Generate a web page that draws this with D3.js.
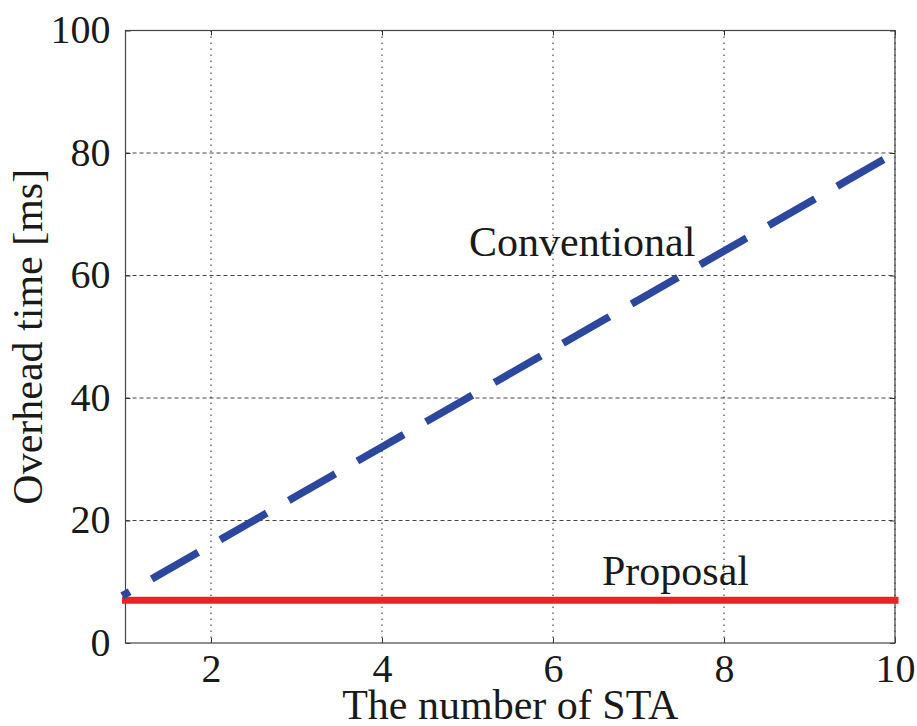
<!DOCTYPE html>
<html>
<head>
<meta charset="utf-8">
<script src="https://cdn.jsdelivr.net/npm/d3@7"></script>
<style>
  html, body { margin: 0; padding: 0; background: #fff; }
  svg { display: block; }
  text { font-family: "Liberation Serif", "Times New Roman", serif; fill: #1a1a1a; }
</style>
</head>
<body>
<svg id="chart" width="917" height="726"></svg>
<script>
// Number of stations on the x axis
const nSTA = [1, 2, 3, 4, 5, 6, 7, 8, 9, 10];
// Overhead time [ms] for each scheme
const conventional = [8, 16, 24, 32, 40, 48, 56, 64, 72, 80];
const proposal = [7, 7, 7, 7, 7, 7, 7, 7, 7, 7];
// Axis ticks
const xTicks = [2, 4, 6, 8, 10];
const yTicks = [0, 20, 40, 60, 80, 100];

const svg = d3.select("#chart");
const plotL = 125.5, plotR = 895, plotT = 30.5, plotB = 643;

const x = d3.scaleLinear().domain([1, 10]).range([plotL, plotR]);
const y = d3.scaleLinear().domain([0, 100]).range([plotB, plotT]);

// Grid lines
const grid = svg.append("g");
grid.selectAll("line.h").data(yTicks.slice(1)).join("line")
  .attr("class", "h")
  .attr("x1", plotL).attr("x2", plotR)
  .attr("y1", d => y(d)).attr("y2", d => y(d))
  .attr("stroke", "#444").attr("stroke-width", 1)
  .attr("stroke-dasharray", "4 3");
grid.selectAll("line.v").data(xTicks).join("line")
  .attr("class", "v")
  .attr("x1", d => x(d)).attr("x2", d => x(d))
  .attr("y1", plotT).attr("y2", plotB)
  .attr("stroke", "#222").attr("stroke-width", 1)
  .attr("stroke-dasharray", "1.5 4.5");

// Axes with inward ticks on all four sides
const axisStyle = g => {
  g.select(".domain").remove();
  g.selectAll(".tick line").attr("stroke", "#333").attr("stroke-width", 1);
  g.selectAll(".tick text").attr("font-size", 40)
    .style("font-family", "'Liberation Serif', 'Times New Roman', serif").attr("fill", "#1a1a1a");
};
svg.append("g").attr("transform", `translate(0,${plotB})`)
  .call(d3.axisBottom(x).tickValues(xTicks).tickFormat(d3.format("d")).tickSizeInner(-5).tickPadding(11))
  .call(axisStyle)
  .selectAll(".tick text").attr("dy", "0.71em");
svg.append("g").attr("transform", `translate(0,${plotT})`)
  .call(d3.axisTop(x).tickValues(xTicks).tickFormat("").tickSizeInner(-5))
  .call(axisStyle);
svg.append("g").attr("transform", `translate(${plotL},0)`)
  .call(d3.axisLeft(y).tickValues(yTicks).tickFormat(d3.format("d")).tickSizeInner(-5).tickPadding(15))
  .call(axisStyle)
  .selectAll(".tick text").attr("dy", "0.3em");
svg.append("g").attr("transform", `translate(${plotR},0)`)
  .call(d3.axisRight(y).tickValues(yTicks).tickFormat("").tickSizeInner(-5))
  .call(axisStyle);

// Plot box
svg.append("rect")
  .attr("x", plotL).attr("y", plotT)
  .attr("width", plotR - plotL).attr("height", plotB - plotT)
  .attr("fill", "none").attr("stroke", "#444").attr("stroke-width", 1.2);

// Series lines
const line = (ys) => d3.line().x((d, i) => x(nSTA[i])).y(d => y(d))(ys);

svg.append("path")
  .attr("d", line(proposal))
  .attr("fill", "none").attr("stroke", "#ee2127")
  .attr("stroke-width", 7).attr("stroke-linecap", "square");

// Dashed line: a short leading stub, then regular dashes
const dashPattern = [1, 33];
for (let k = 0; k < 12; k++) dashPattern.push(46, 33);
svg.append("path")
  .attr("d", line(conventional))
  .attr("fill", "none").attr("stroke", "#2c479e")
  .attr("stroke-width", 7.5).attr("stroke-linecap", "square")
  .attr("stroke-dasharray", dashPattern.join(" "));

// Series annotations
svg.append("text").attr("x", 469).attr("y", 256)
  .attr("font-size", 42).text("Conventional");
svg.append("text").attr("x", 602).attr("y", 585)
  .attr("font-size", 42).text("Proposal");

// Axis titles
svg.append("text")
  .attr("x", (plotL + plotR) / 2).attr("y", 719)
  .attr("text-anchor", "middle").attr("font-size", 42)
  .text("The number of STA");
svg.append("text")
  .attr("transform", `translate(42,${(plotT + plotB) / 2}) rotate(-90)`)
  .attr("text-anchor", "middle").attr("font-size", 42)
  .text("Overhead time [ms]");
</script>
</body>
</html>
